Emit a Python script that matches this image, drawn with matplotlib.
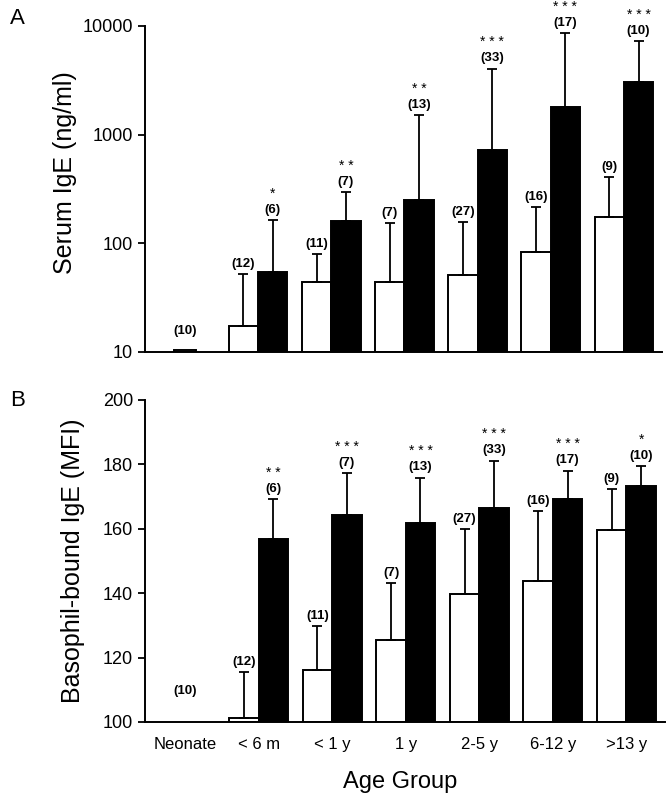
import numpy as np
import matplotlib
matplotlib.use("Agg")
import matplotlib.pyplot as plt
from matplotlib.ticker import FixedLocator, NullLocator

plt.rcParams['font.family'] = ['Liberation Sans', 'DejaVu Sans']

# Data
groups = ['Neonate', '< 6 m', '< 1 y', '1 y', '2-5 y', '6-12 y', '>13 y']
n_white = ['(10)', '(12)', '(11)', '(7)', '(27)', '(16)', '(9)']
n_black = ['', '(6)', '(7)', '(13)', '(33)', '(17)', '(10)']

# Panel A: serum IgE (ng/ml), mean and top of the error bar
a_white = [10.5, 17.4, 44, 44, 51, 83.5, 174]
a_white_top = [10.5, 52, 80, 154, 158, 217, 410]
a_black = [np.nan, 54.6, 161, 250, 728, 1786, 3040]
a_black_top = [np.nan, 165, 298, 1515, 4055, 8610, 7310]
a_stars = ['', '*', '* *', '* *', '* * *', '* * *', '* * *']

# Panel B: basophil-bound IgE (MFI)
b_white = [np.nan, 101.2, 116, 125.4, 139.7, 143.9, 159.5]
b_white_top = [np.nan, 115.5, 129.7, 143.1, 160.0, 165.4, 172.3]
b_black = [np.nan, 156.9, 164.4, 161.8, 166.4, 169.4, 173.4]
b_black_top = [np.nan, 169.2, 177.2, 175.9, 181.2, 178.1, 179.5]
b_stars = ['', '* *', '* * *', '* * *', '* * *', '* * *', '*']

fig = plt.figure(figsize=(6.7, 8), dpi=100)
axA = fig.add_axes([0.217, 0.56, 0.771, 0.4075])
axB = fig.add_axes([0.217, 0.0975, 0.775, 0.4025])

x = np.arange(len(groups))
w = 0.4
lw = 1.4


def draw_panel(ax, white, white_top, black, black_top, stars, base, neo_pad):
    white = np.array(white, float)
    black = np.array(black, float)
    wt = np.array(white_top, float)
    bt = np.array(black_top, float)
    # white bars: neonate is a single narrow bar at the group centre
    xw = x - w / 2
    xw[0] = x[0]
    widths = np.full(len(x), w)
    widths[0] = 0.29
    ax.bar(xw, white - base, bottom=base, width=widths, color='white',
           edgecolor='black', linewidth=lw, zorder=2)
    ax.bar(x + w / 2, black - base, bottom=base, width=w, color='black',
           edgecolor='black', linewidth=lw, zorder=2)
    ok = ~np.isnan(white)
    ok[0] = False
    ax.errorbar(xw[ok], white[ok], yerr=[np.zeros(ok.sum()), (wt - white)[ok]],
                fmt='none', ecolor='black', elinewidth=1.3, capsize=3.5,
                capthick=1.3, zorder=3)
    okb = ~np.isnan(black)
    ax.errorbar((x + w / 2)[okb], black[okb],
                yerr=[np.zeros(okb.sum()), (bt - black)[okb]],
                fmt='none', ecolor='black', elinewidth=1.3, capsize=3.5,
                capthick=1.3, zorder=3)
    lab = dict(textcoords='offset points', ha='center', va='bottom',
               fontsize=9.5, fontweight='bold')
    for i in range(len(x)):
        if i == 0:
            yy = white[0] if not np.isnan(white[0]) else base
            ax.annotate(n_white[0], (xw[0], yy), xytext=(0, neo_pad), **lab)
            continue
        ax.annotate(n_white[i], (xw[i], wt[i]), xytext=(0, 3), **lab)
        ax.annotate(n_black[i], (x[i] + w / 2, bt[i]), xytext=(0, 3), **lab)
        ax.annotate(stars[i], (x[i] + w / 2, bt[i]), xytext=(0, 16),
                    textcoords='offset points', ha='center', va='baseline',
                    fontsize=10)

    for s in ['top', 'right']:
        ax.spines[s].set_visible(False)
    for s in ['left', 'bottom']:
        ax.spines[s].set_linewidth(1.4)
    ax.set_xlim(-0.54, 6.52)
    ax.tick_params(axis='y', direction='out', length=5, width=1.3,
                   labelsize=13, pad=4)


draw_panel(axA, a_white, a_white_top, a_black, a_black_top, a_stars, 10, 9)
axA.set_yscale('log')
axA.set_ylim(10, 10000)
axA.yaxis.set_major_locator(FixedLocator([10, 100, 1000, 10000]))
axA.yaxis.set_minor_locator(NullLocator())
axA.set_yticklabels(['10', '100', '1000', '10000'])
axA.set_xticks([])
axA.set_ylabel('Serum IgE (ng/ml)', fontsize=18)
axA.yaxis.set_label_coords(-0.133, 0.55)

draw_panel(axB, b_white, b_white_top, b_black, b_black_top, b_stars, 100, 18)
axB.set_ylim(100, 200)
axB.set_yticks([100, 120, 140, 160, 180, 200])
axB.set_xticks(x)
axB.set_xticklabels(groups, fontsize=12)
axB.tick_params(axis='x', length=0, pad=11)
axB.set_ylabel('Basophil-bound IgE (MFI)', fontsize=18)
axB.yaxis.set_label_coords(-0.117, 0.5)
axB.set_xlabel('Age Group', fontsize=17)
axB.xaxis.set_label_coords(0.49, -0.152)

fig.text(0.026, 0.977, 'A', fontsize=16, ha='center', va='center')
fig.text(0.026, 0.499, 'B', fontsize=16, ha='center', va='center')

fig.savefig('out.png', dpi=100)
